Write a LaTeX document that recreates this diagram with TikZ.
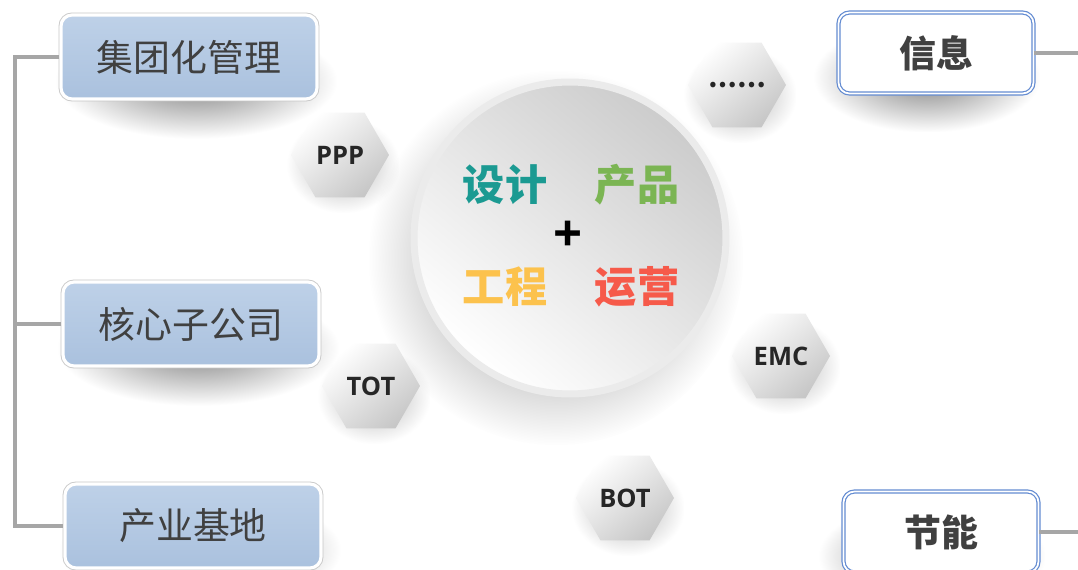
\documentclass[tikz,border=0pt]{standalone}
\usepackage{fontspec}
\setmainfont{Open Sans}
\newfontfamily\cjk{Noto Sans CJK SC}
\usepackage{tikz}
\usetikzlibrary{shapes.geometric,fadings,backgrounds}
\tikzfading[name=soft shadow, inner color=transparent!0, outer color=transparent!100]
\definecolor{box-blue}{RGB}{190,209,232}
\definecolor{box-blue-dark}{RGB}{170,193,222}
\definecolor{info-blue}{RGB}{100,140,210}
\definecolor{line-gray}{RGB}{166,166,166}
\definecolor{text-gray}{RGB}{64,64,64}
\definecolor{hex-text}{RGB}{38,38,38}
\definecolor{design-teal}{RGB}{27,154,146}
\definecolor{product-green}{RGB}{123,181,83}
\definecolor{project-yellow}{RGB}{252,194,77}
\definecolor{operate-red}{RGB}{246,90,74}
\tikzstyle{link}=[draw=line-gray, line width=2.8pt]
\tikzstyle{shadowblob}=[fill=black, fill opacity=0.5, path fading=soft shadow]
\tikzstyle{orgbox}=[rounded corners=0.22cm, preaction={draw=black!22, line width=2.8pt}, draw=white, line width=1.8pt, top color=box-blue, bottom color=box-blue-dark, minimum width=5.12cm, minimum height=1.68cm, text=text-gray, font=\cjk\fontsize{21}{21}\selectfont]
\tikzstyle{fieldbox}=[rounded corners=0.22cm, draw=info-blue, double=white, double distance=1pt, line width=0.7pt, fill=white, minimum width=3.9cm, minimum height=1.62cm, text=text-gray, font=\cjk\bfseries\fontsize{21}{21}\selectfont]
\tikzstyle{hexnode}=[regular polygon, regular polygon sides=6, minimum size=1.96cm, inner sep=0pt, top color=white, bottom color=black!22, shading angle=40, text=hex-text, font=\bfseries\fontsize{14.5}{15}\selectfont]
\tikzstyle{hubtext}=[font=\cjk\bfseries\fontsize{24}{24}\selectfont]

\begin{document}
\begin{tikzpicture}[x=0.02cm, y=-0.02cm]
	\useasboundingbox (0,0) rectangle (1078,570);
	\node[circle, minimum size=6.24cm, draw=black!8, line width=4pt, top color=black!20, bottom color=white, shading angle=-40] (hub) at (570,238) {};
	\node[hubtext, text=design-teal] (design) at (505,185) {设计};
	\node[hubtext, text=product-green] (product) at (637,185) {产品};
	\node[font=\bfseries\fontsize{29}{29}\selectfont] (plus) at (568,236) {+};
	\node[hubtext, text=project-yellow] (project) at (505,287) {工程};
	\node[hubtext, text=operate-red] (operate) at (637,287) {运营};
	\node[orgbox] (mgmt) at (189,57) {集团化管理};
	\node[orgbox] (core) at (191,324) {核心子公司};
	\node[orgbox] (base) at (193,526) {产业基地};
	\node[fieldbox] (info) at (936,53) {信息};
	\node[fieldbox] (energy) at (941,532) {节能};
	\node[hexnode] (ppp) at (340,155) {PPP};
	\node[hexnode] (more) at (737,85) {\cjk ……};
	\node[hexnode] (tot) at (371,386) {TOT};
	\node[hexnode] (emc) at (781,356) {EMC};
	\node[hexnode] (bot) at (625,498) {BOT};
	\coordinate (spine) at (15,0);
	\coordinate (redge) at (1078,0);
	\draw[link] (mgmt.west) -- (mgmt.west -| spine) -- (base.west -| spine) -- (base.west);
	\draw[link] (core.west) -- (core.west -| spine);
	\draw[link] (info.east) -- (info.east -| redge);
	\draw[link] (energy.east) -- (energy.east -| redge);
	\begin{scope}[on background layer]
		\fill[white] (0,0) rectangle (1078,570);
		\fill[shadowblob] ([shift={(-14,20)}]hub.center) circle (3.75cm);
		\foreach \b in {mgmt,core,base}
			\fill[shadowblob] ([shift={(-4,10)}]\b.north west) rectangle ([shift={(18,38)}]\b.south east);
		\foreach \b in {info,energy}
			\fill[shadowblob] ([shift={(-24,10)}]\b.north west) rectangle ([shift={(6,38)}]\b.south east);
		\foreach \h in {ppp,more,tot,emc,bot}
			\fill[shadowblob, fill opacity=0.3] ([shift={(-4,-38)}]\h.west) rectangle ([shift={(10,58)}]\h.east);
	\end{scope}
\end{tikzpicture}
\end{document}
